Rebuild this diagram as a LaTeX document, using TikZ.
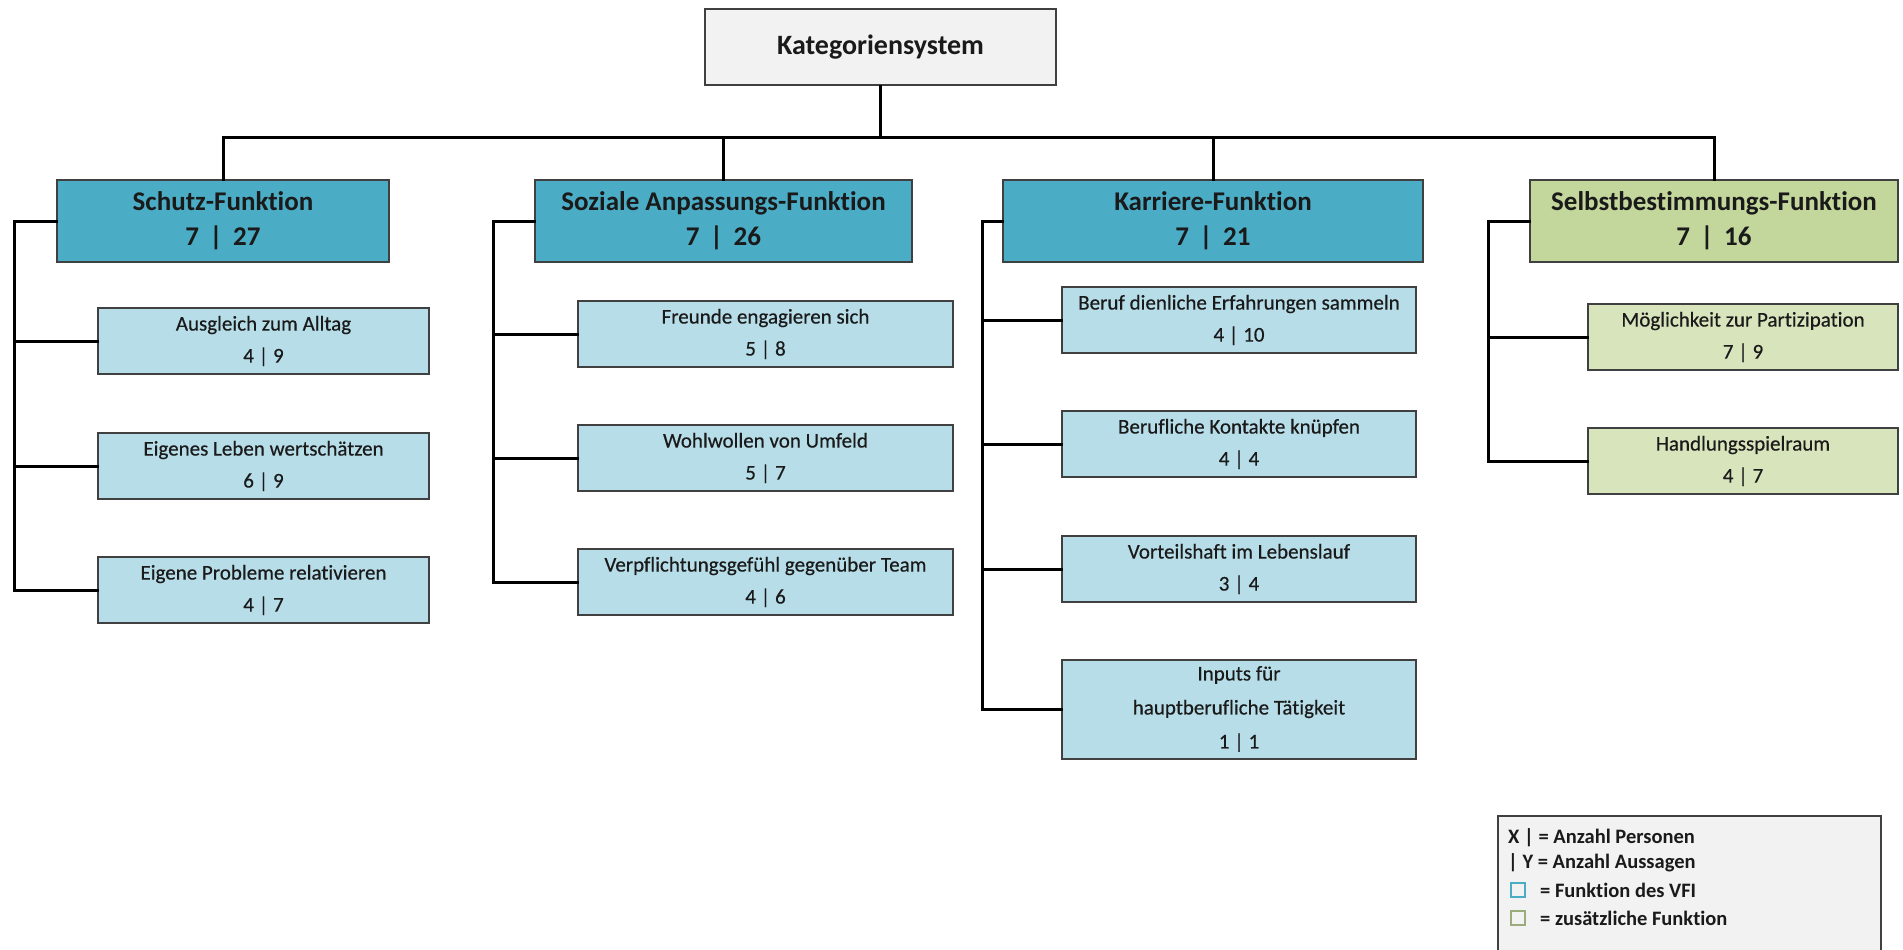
\documentclass[tikz,border=0pt]{standalone}
\usepackage{fontspec}
\setmainfont{Carlito}[Ligatures=NoCommon]
\newfontfamily\subfont{Carlito}[Ligatures=NoCommon, FakeBold=0.4]
\definecolor{topblue}{HTML}{4BACC6}
\definecolor{subblue}{HTML}{B7DDE8}
\definecolor{topgreen}{HTML}{C3D69B}
\definecolor{subgreen}{HTML}{D7E4BC}
\definecolor{rootgray}{HTML}{F2F2F2}
\definecolor{edgegray}{HTML}{404040}
\definecolor{ink}{HTML}{1A1A1A}
\tikzset{
  box/.style={draw=edgegray, line width=2pt, rectangle, inner sep=0pt, align=center, text=ink},
  rootbox/.style={box, fill=rootgray, minimum width=351pt, minimum height=76pt,
    font=\fontsize{28}{34}\selectfont\bfseries},
  funcbox/.style={box, minimum height=82pt, font=\fontsize{27}{34}\selectfont\bfseries},
  subbox/.style={box, minimum height=66pt, font=\subfont\fontsize{21}{32}\selectfont},
  conn/.style={line width=3pt, black, line cap=rect},
  legtext/.style={anchor=west, inner sep=0pt, text=ink, font=\fontsize{20.5}{24}\selectfont\bfseries}
}
\begin{document}
\begin{tikzpicture}[x=1pt, y=-1pt]
\clip (0,0) rectangle (1903,950);
\fill[white] (0,0) rectangle (1903,950);

% root
\node[rootbox] (root) at (880.5,47) {Kategoriensystem};

% main functions
\node[funcbox, fill=topblue, minimum width=332pt] (schutz) at (223,221) {Schutz-Funktion\\[1pt]7 \,|\, 27};
\node[funcbox, fill=topblue, minimum width=377pt] (sozial) at (723.5,221) {Soziale Anpassungs-Funktion\\[1pt]7 \,|\, 26};
\node[funcbox, fill=topblue, minimum width=420pt] (karriere) at (1213,221) {Karriere-Funktion\\[1pt]7 \,|\, 21};
\node[funcbox, fill=topgreen, minimum width=368pt] (selbst) at (1714,221) {Selbstbestimmungs-Funktion\\[1pt]7 \,|\, 16};

% sub-categories: Schutz
\node[subbox, fill=subblue, minimum width=331pt] (s1) at (263.5,341) {Ausgleich zum Alltag\\4 | 9};
\node[subbox, fill=subblue, minimum width=331pt] (s2) at (263.5,466) {Eigenes Leben wertschätzen\\6 | 9};
\node[subbox, fill=subblue, minimum width=331pt] (s3) at (263.5,590) {Eigene Probleme relativieren\\4 | 7};

% sub-categories: soziale Anpassung
\node[subbox, fill=subblue, minimum width=375pt] (a1) at (765.5,334) {Freunde engagieren sich\\5 | 8};
\node[subbox, fill=subblue, minimum width=375pt] (a2) at (765.5,458) {Wohlwollen von Umfeld\\5 | 7};
\node[subbox, fill=subblue, minimum width=375pt] (a3) at (765.5,582) {Verpflichtungsgefühl gegenüber Team\\4 | 6};

% sub-categories: Karriere
\node[subbox, fill=subblue, minimum width=354pt] (k1) at (1239,320) {Beruf dienliche Erfahrungen sammeln\\4 | 10};
\node[subbox, fill=subblue, minimum width=354pt] (k2) at (1239,444) {Berufliche Kontakte knüpfen\\4 | 4};
\node[subbox, fill=subblue, minimum width=354pt] (k3) at (1239,569) {Vorteilshaft im Lebenslauf\\3 | 4};
\node[subbox, fill=subblue, minimum width=354pt, minimum height=99pt,
  font=\subfont\fontsize{21}{34}\selectfont] (k4) at (1239,709) {Inputs für\\hauptberufliche Tätigkeit\\1 | 1};

% sub-categories: Selbstbestimmung
\node[subbox, fill=subgreen, minimum width=310pt] (b1) at (1743,337) {Möglichkeit zur Partizipation\\7 | 9};
\node[subbox, fill=subgreen, minimum width=310pt] (b2) at (1743,461) {Handlungsspielraum\\4 | 7};

% connectors from the root
\coordinate (bar) at (0,137);
\draw[conn] (root.south) -- (root.south |- bar);
\draw[conn] (schutz.north) -- (schutz.north |- bar) -- (selbst.north |- bar) -- (selbst.north);
\draw[conn] (sozial.north) -- (sozial.north |- bar);
\draw[conn] (karriere.north) -- (karriere.north |- bar);

% side brackets
\coordinate (bs) at (14,221);
\coordinate (ba) at (493,221);
\coordinate (bk) at (982,221);
\coordinate (bb) at (1488,221);
\draw[conn] (schutz.west) -- (bs) |- (s3.west);
\draw[conn] (s1.west) -- (s1.west -| bs);
\draw[conn] (s2.west) -- (s2.west -| bs);
\draw[conn] (sozial.west) -- (ba) |- (a3.west);
\draw[conn] (a1.west) -- (a1.west -| ba);
\draw[conn] (a2.west) -- (a2.west -| ba);
\draw[conn] (karriere.west) -- (bk) |- (k4.west);
\draw[conn] (k1.west) -- (k1.west -| bk);
\draw[conn] (k2.west) -- (k2.west -| bk);
\draw[conn] (k3.west) -- (k3.west -| bk);
\draw[conn] (selbst.west) -- (bb) |- (b2.west);
\draw[conn] (b1.west) -- (b1.west -| bb);

% legend
\node[draw=edgegray, line width=2pt, fill=rootgray, minimum width=383pt, minimum height=150pt,
  inner sep=0pt, anchor=north west] (legend) at (1497,815) {};
\node[legtext] (l1) at (1508,838) {X | = Anzahl Personen};
\node[legtext] (l2) at (1508,863) {| Y = Anzahl Aussagen};
\node[draw=topblue, line width=2pt, minimum size=14pt, inner sep=0pt] (q1) at (1518,890) {};
\node[legtext] (l3) at (1540,890) {= Funktion des VFI};
\node[draw=topgreen!80!black, line width=2pt, minimum size=14pt, inner sep=0pt] (q2) at (1518,918) {};
\node[legtext] (l4) at (1540,918) {= zusätzliche Funktion};
\end{tikzpicture}
\end{document}
